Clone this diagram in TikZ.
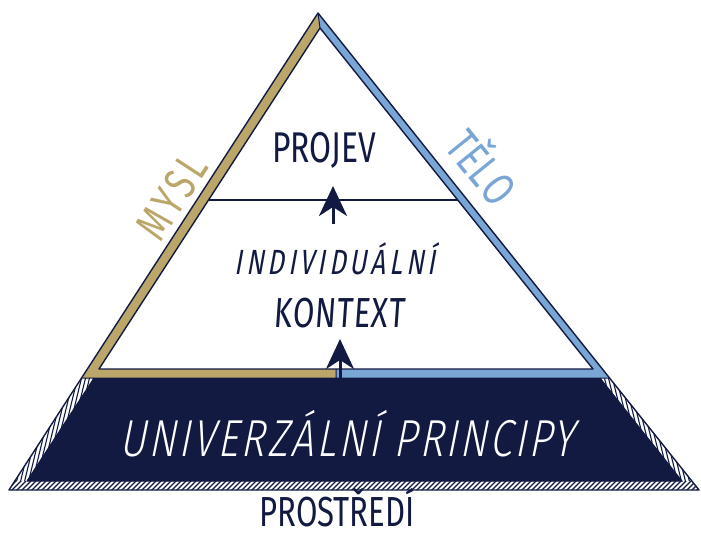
\documentclass[tikz,border=0pt]{standalone}
\usepackage{fontspec}
\usetikzlibrary{arrows.meta}
\newfontfamily\hand[FakeStretch=0.74]{Fira Sans}
\newfontfamily\handsl[FakeStretch=0.74,FakeSlant=0.07]{Fira Sans}
\newfontfamily\handit[FakeStretch=0.74,FakeSlant=0.18]{Fira Sans}
\newfontfamily\handlt[FakeStretch=0.78,FakeSlant=0.2]{Fira Sans Light}
\definecolor{navy}{RGB}{18,26,66}
\definecolor{gold}{RGB}{187,166,106}
\definecolor{sky}{RGB}{122,166,214}
\tikzset{
  edge/.style={draw=navy, line width=1.4pt, line join=round},
  hatch/.style={navy, line width=1.1pt},
  lbl/.style={inner sep=0pt, anchor=base},
  arrowline/.style={navy, line width=3pt, -{Stealth[length=30pt,width=28pt,inset=9pt]}},
}
\begin{document}
\begin{tikzpicture}[x=1pt,y=-1pt]
\useasboundingbox (0,0) rectangle (701,535);
% key points
\coordinate (A) at (318,13);
\coordinate (I) at (320,28);
\coordinate (BL) at (9,490);
\coordinate (BR) at (699,490);
\coordinate (OL) at (82,378);
\coordinate (OR) at (610,378);
\coordinate (IL) at (99,369);
\coordinate (IR) at (593,369);
\coordinate (M1) at (336,369);
\coordinate (M2) at (336,378);
\coordinate (D1) at (94,378);
\coordinate (D2) at (600,378);
\coordinate (D3) at (682,481);
\coordinate (D4) at (27,481);
\coordinate (E3) at (692,481);
\coordinate (E4) at (15,481);
% coloured bands
\fill[gold] (A) -- (OL) -- (M2) -- (M1) -- (IL) -- (I) -- cycle;
\fill[sky] (A) -- (I) -- (IR) -- (M1) -- (M2) -- (OR) -- cycle;
% base (hatched frame + dark fill)
\fill[white] (OL) -- (OR) -- (BR) -- (BL) -- cycle;
\fill[navy] (D1) -- (D2) -- (D3) -- (D4) -- cycle;
\begin{scope}
  \clip (OL) -- (D1) -- (D4) -- (E4) -- cycle;
  \foreach \x in {-30,-26,...,110} \draw[hatch] (\x,492) -- ++(28,-116);
\end{scope}
\begin{scope}
  \clip (D2) -- (OR) -- (E3) -- (D3) -- cycle;
  \foreach \x in {600,604,...,740} \draw[hatch] (\x,492) -- ++(-28,-116);
\end{scope}
\begin{scope}
  \clip (BL) -- (E4) -- (E3) -- (BR) -- cycle;
  \foreach \x in {-10,-5,...,710} \draw[hatch] (\x,492) -- ++(12,-12);
\end{scope}
% outlines
\draw[navy, line width=1pt] (D4) -- (D1) (D2) -- (D3) -- (D4);
\draw[edge] (I) -- (IL) -- (IR) -- cycle;
\draw[navy, line width=1pt] (A) -- (I) (M1) -- (M2) (OL) -- (OR);
\draw[edge] (A) -- (BL) -- (BR) -- cycle;
% divider
\coordinate (DL) at (208,200);
\coordinate (DR) at (458,200);
\draw[navy, line width=1.6pt] (DL) -- (DR);
% arrows
\coordinate (a1s) at (333,224);
\coordinate (a1e) at (333,186);
\coordinate (a2s) at (340,378);
\coordinate (a2e) at (340,339);
\draw[arrowline] (a1s) -- (a1e);
\draw[arrowline] (a2s) -- (a2e);
% labels
\node[lbl, navy, font=\hand\fontsize{43}{43}\selectfont] (projev) at (324,162) {PROJEV};
\node[lbl, navy, font=\handit\fontsize{35}{35}\selectfont\addfontfeature{LetterSpace=11}] (indiv) at (335,274) {INDIVIDUÁLNÍ};
\node[lbl, navy, font=\handsl\fontsize{42}{42}\selectfont\addfontfeature{LetterSpace=2}] (kontext) at (339,327) {KONTEXT};
\node[lbl, white, font=\handlt\fontsize{52}{52}\selectfont\addfontfeature{LetterSpace=5}] (univ) at (347,456) {UNIVERZÁLNÍ\hspace{14pt}PRINCIPY};
\node[lbl, navy, font=\hand\fontsize{42}{42}\selectfont] (prostr) at (337,526) {PROSTŘEDÍ};
\node[inner sep=0pt, gold, rotate=57, font=\hand\fontsize{46}{46}\selectfont\addfontfeature{LetterSpace=8}] (mysl) at (172,197) {MYSL};
\node[inner sep=0pt, sky, rotate=-51, font=\hand\fontsize{47}{47}\selectfont\addfontfeature{LetterSpace=8}] (telo) at (481,168) {T\smash{Ě}LO};
\end{tikzpicture}
\end{document}
